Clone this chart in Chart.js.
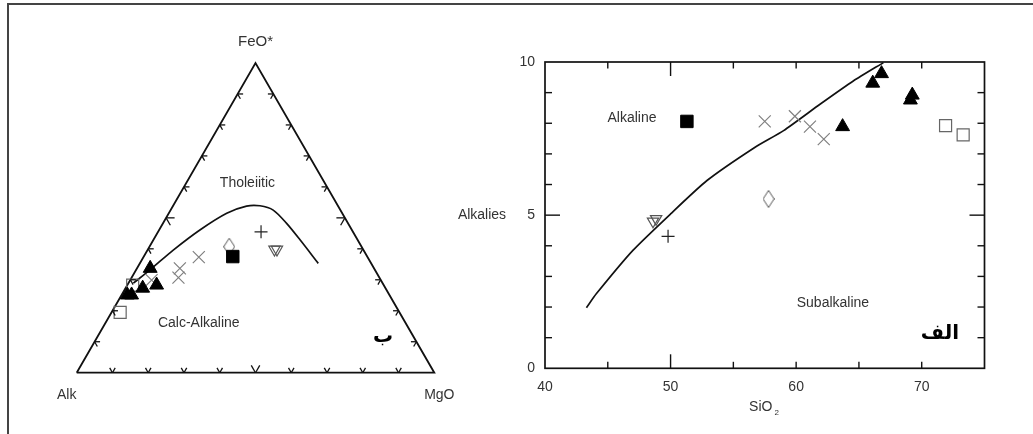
<!DOCTYPE html>
<html>
<head>
<meta charset="utf-8">
<script src="https://cdn.jsdelivr.net/npm/chart.js@4.4.0/dist/chart.umd.min.js"></script>
<style>
  body { margin: 0; background: #fff; }
  #frame { position: absolute; left: 7px; top: 3px; width: 1040px; height: 440px; border-top: 2px solid #444; border-left: 2px solid #444; }
  #afm { position: absolute; left: 0; top: 0; }
  #tas { position: absolute; left: 440px; top: 0; }
</style>
</head>
<body>
<div id="frame"></div>
<canvas id="afm" width="500" height="434" style="width:500px;height:434px"></canvas>
<canvas id="tas" width="593" height="434" style="width:593px;height:434px"></canvas>
<script>
// TAS diagram: SiO2 vs alkalies, per sample group
const sio2Square = [51.3];
const alkSquare = [8.06];
const sio2Cross = [57.5, 59.9, 61.1, 62.2];
const alkCross = [8.06, 8.23, 7.89, 7.48];
const sio2Tri = [63.7, 66.1, 66.8, 69.25, 69.1];
const alkTri = [7.89, 9.31, 9.62, 8.92, 8.76];
const sio2OpenSq = [71.9, 73.3];
const alkOpenSq = [7.92, 7.62];
const sio2Diamond = [57.8];
const alkDiamond = [5.53];
const sio2DownTri = [48.6, 48.85];
const alkDownTri = [4.80, 4.88];
const sio2Plus = [49.8];
const alkPlus = [4.31];
// alkaline / subalkaline divide
const sio2Divide = [43.3, 44.1, 47.0, 50.0, 52.9, 56.7, 59.0, 61.9, 64.55, 66.95];
const alkDivide = [1.98, 2.44, 3.85, 5.04, 6.13, 7.21, 7.76, 8.62, 9.38, 9.98];
const sio2Ticks = [40, 50, 60, 70];
const alkTicks = [0, 5, 10];

// AFM triangle, each point is [A, F, M] in %
const afmSquare = [[37.6, 37.5, 24.9]];
const afmCross = [[47.2, 37.3, 15.5], [54.3, 33.7, 12.0], [56.2, 30.7, 13.1], [64.1, 29.9, 6.0]];
const afmTri = [[62.6, 33.7, 3.7], [63.5, 28.3, 8.2], [67.9, 27.3, 4.8], [72.1, 25.1, 2.8], [73.3, 25.1, 1.6]];
const afmOpenSq = [[78.1, 19.5, 2.4], [70.2, 28.3, 1.5]];
const afmDiamond = [[37.0, 40.7, 22.3]];
const afmDownTri = [[24.8, 39.8, 35.4], [24.1, 39.8, 36.1]];
const afmPlus = [[25.7, 45.5, 28.8]];
// tholeiitic / calc-alkaline divide
const afmDivide = [[69.7, 28.9, 1.4], [62.9, 33.2, 3.9], [53.2, 39.6, 7.2], [42.5, 46.1, 11.4], [32.3, 51.5, 16.2],
  [25.6, 53.8, 20.6], [21.8, 53.9, 24.3], [18.8, 52.5, 28.7], [17.2, 48.2, 34.6], [16.1, 42.9, 41.0], [14.8, 35.3, 49.9]];
const afmCorners = [[100, 0, 0], [0, 0, 100], [0, 100, 0], [100, 0, 0]];

const FONT = '"Liberation Sans", Arial, sans-serif';
const H = Math.sqrt(3) / 2;

function pts(xs, ys) {
    return xs.map((v, i) => ({x: v, y: ys[i]}));
}

function ternXY(c) {
    const s = c[0] + c[1] + c[2];
    const f = c[1] / s, m = c[2] / s;
    return {x: m + f / 2, y: f * H};
}

// tall open diamond marker
const diamondImg = document.createElement('canvas');
diamondImg.width = 12;
diamondImg.height = 18;
(() => {
    const g = diamondImg.getContext('2d');
    g.strokeStyle = '#555';
    g.lineWidth = 1;
    g.beginPath();
    g.moveTo(6, 0.5); g.lineTo(11.5, 9); g.lineTo(6, 17.5); g.lineTo(0.5, 9); g.closePath();
    g.stroke();
})();

const styles = {
    square: {pointStyle: 'rect', pointRadius: 8.8, pointBackgroundColor: '#000', pointBorderColor: '#000', pointBorderWidth: 1},
    tri: {pointStyle: 'triangle', pointRadius: 8, pointBackgroundColor: '#000', pointBorderColor: '#000', pointBorderWidth: 1},
    openSq: {pointStyle: 'rect', pointRadius: 8.5, pointBackgroundColor: 'rgba(0,0,0,0)', pointBorderColor: '#666', pointBorderWidth: 1.2},
    cross: {pointStyle: 'crossRot', pointRadius: 8.5, pointBorderColor: '#808080', pointBorderWidth: 1.2},
    diamond: {pointStyle: diamondImg, pointRadius: 9},
    downTri: {pointStyle: 'triangle', pointRotation: 180, pointRadius: 6.5, pointBackgroundColor: 'rgba(0,0,0,0)', pointBorderColor: '#555', pointBorderWidth: 1.2},
    plus: {pointStyle: 'cross', pointRadius: 6.5, pointBorderColor: '#222', pointBorderWidth: 1.2}
};

function markerSet(data, style) {
    return Object.assign({data: data, showLine: false, clip: false}, styles[style]);
}

function lineSet(data, tension) {
    return {data: data, showLine: true, pointRadius: 0, borderColor: '#111', borderWidth: 1.7, tension: tension, clip: false};
}

function label(ctx, text, px, py, font) {
    ctx.font = font;
    ctx.fillStyle = '#333';
    ctx.textAlign = 'center';
    ctx.textBaseline = 'middle';
    ctx.fillText(text, px, py);
}

// ---- AFM ternary ----
const afmDecor = {
    id: 'afmDecor',
    afterDatasetsDraw(chart) {
        const {ctx, scales: {x, y}} = chart;
        const P = c => { const p = ternXY(c); return [x.getPixelForValue(p.x), y.getPixelForValue(p.y)]; };
        const vA = P([100, 0, 0]), vF = P([0, 100, 0]), vM = P([0, 0, 100]);
        ctx.save();
        ctx.strokeStyle = '#111';
        ctx.lineWidth = 1.3;
        [[vA, vM, vF], [vA, vF, vM], [vM, vF, vA]].forEach(([p1, p2, o]) => {
            for (let i = 1; i < 10; i++) {
                const t = i / 10, len = i === 5 ? 8.5 : 5.5;
                const px = p1[0] + (p2[0] - p1[0]) * t, py = p1[1] + (p2[1] - p1[1]) * t;
                [p1, p2].forEach(v => {
                    const dx = o[0] - v[0], dy = o[1] - v[1], d = Math.hypot(dx, dy);
                    ctx.beginPath();
                    ctx.moveTo(px, py);
                    ctx.lineTo(px + dx / d * len, py + dy / d * len);
                    ctx.stroke();
                });
            }
        });
        const f14 = '14px ' + FONT;
        label(ctx, 'FeO*', vF[0], vF[1] - 21, '15px ' + FONT);
        label(ctx, 'Alk', vA[0] - 10, vA[1] + 22, f14);
        label(ctx, 'MgO', vM[0] + 5, vM[1] + 22, f14);
        label(ctx, 'Tholeiitic', x.getPixelForValue(0.4776), y.getPixelForValue(0.5297), f14);
        label(ctx, 'Calc-Alkaline', x.getPixelForValue(0.3414), y.getPixelForValue(0.1381), f14);
        ctx.fillStyle = '#000';
        ctx.font = 'bold 20px "DejaVu Sans", sans-serif';
        ctx.textAlign = 'center';
        ctx.textBaseline = 'middle';
        ctx.fillText('ب', x.getPixelForValue(0.8565), y.getPixelForValue(0.0998));
        ctx.restore();
    }
};

new Chart(document.getElementById('afm'), {
    type: 'scatter',
    data: {
        datasets: [
            markerSet(afmSquare.map(ternXY), 'square'),
            markerSet(afmTri.map(ternXY), 'tri'),
            markerSet(afmOpenSq.map(ternXY), 'openSq'),
            markerSet(afmCross.map(ternXY), 'cross'),
            markerSet(afmDiamond.map(ternXY), 'diamond'),
            markerSet(afmDownTri.map(ternXY), 'downTri'),
            markerSet(afmPlus.map(ternXY), 'plus'),
            lineSet(afmDivide.map(ternXY), 0.3),
            Object.assign(lineSet(afmCorners.map(ternXY), 0), {borderWidth: 1.8})
        ]
    },
    options: {
        responsive: false,
        animation: false,
        events: [],
        layout: {padding: {left: 76.7, right: 65.7, top: 63, bottom: 61.3}, autoPadding: false},
        plugins: {legend: {display: false}, tooltip: {enabled: false}},
        scales: {
            x: {type: 'linear', min: 0, max: 1, display: false},
            y: {type: 'linear', min: 0, max: H, display: false}
        }
    },
    plugins: [afmDecor]
});

// ---- TAS ----
const tasDecor = {
    id: 'tasDecor',
    beforeDatasetsDraw(chart) {
        const {ctx, chartArea: a, scales: {x, y}} = chart;
        const line = (x1, y1, x2, y2) => { ctx.beginPath(); ctx.moveTo(x1, y1); ctx.lineTo(x2, y2); ctx.stroke(); };
        ctx.save();
        ctx.strokeStyle = '#111';
        ctx.lineWidth = 1.7;
        ctx.strokeRect(a.left, a.top, a.right - a.left, a.bottom - a.top);
        ctx.lineWidth = 1.4;
        for (let v = 45; v <= 70; v += 5) {
            const px = x.getPixelForValue(v), len = v === 50 ? 14 : 6.5;
            line(px, a.bottom, px, a.bottom - len);
            line(px, a.top, px, a.top + len);
        }
        for (let v = 1; v < 10; v++) {
            const py = y.getPixelForValue(v), len = v === 5 ? 15 : 7;
            line(a.left, py, a.left + len, py);
            line(a.right, py, a.right - len, py);
        }
        ctx.restore();
    },
    afterDatasetsDraw(chart) {
        const {ctx, chartArea: a, scales: {x, y}} = chart;
        ctx.save();
        const f14 = '14px ' + FONT;
        label(ctx, 'Alkaline', x.getPixelForValue(46.93), y.getPixelForValue(8.17), f14);
        label(ctx, 'Subalkaline', x.getPixelForValue(62.93), y.getPixelForValue(2.12), f14);
        label(ctx, 'Alkalies', a.left - 63, y.getPixelForValue(5), f14);
        // x title with subscript
        const cx = (a.left + a.right) / 2 - 4, ty = a.bottom + 39;
        ctx.font = f14;
        ctx.fillStyle = '#333';
        ctx.textAlign = 'center';
        ctx.textBaseline = 'middle';
        ctx.fillText('SiO', cx, ty);
        ctx.font = '8px ' + FONT;
        ctx.fillText('2', cx + 16, ty + 5);
        ctx.fillStyle = '#000';
        ctx.font = 'bold 20px "DejaVu Sans", sans-serif';
        ctx.fillText('الف', x.getPixelForValue(71.45), y.getPixelForValue(1.14));
        ctx.restore();
    }
};

new Chart(document.getElementById('tas'), {
    type: 'scatter',
    data: {
        datasets: [
            markerSet(pts(sio2Square, alkSquare), 'square'),
            markerSet(pts(sio2Tri, alkTri), 'tri'),
            markerSet(pts(sio2OpenSq, alkOpenSq), 'openSq'),
            markerSet(pts(sio2Cross, alkCross), 'cross'),
            markerSet(pts(sio2Diamond, alkDiamond), 'diamond'),
            markerSet(pts(sio2DownTri, alkDownTri), 'downTri'),
            markerSet(pts(sio2Plus, alkPlus), 'plus'),
            lineSet(pts(sio2Divide, alkDivide), 0.2)
        ]
    },
    options: {
        responsive: false,
        animation: false,
        events: [],
        layout: {padding: {left: 0, right: 48.5, top: 62, bottom: 0}, autoPadding: false},
        plugins: {legend: {display: false}, tooltip: {enabled: false}},
        scales: {
            x: {
                type: 'linear', min: 40, max: 75,
                grid: {display: false, drawTicks: false},
                border: {display: false},
                ticks: {padding: 10, color: '#333', font: {family: FONT, size: 14}, maxRotation: 0},
                afterBuildTicks: s => { s.ticks = sio2Ticks.map(v => ({value: v})); },
                afterFit: s => { s.height = 65.7; }
            },
            y: {
                type: 'linear', min: 0, max: 10,
                grid: {display: false, drawTicks: false},
                border: {display: false},
                ticks: {padding: 10, color: '#333', font: {family: FONT, size: 14}},
                afterBuildTicks: s => { s.ticks = alkTicks.map(v => ({value: v})); },
                afterFit: s => { s.width = 105; }
            }
        }
    },
    plugins: [tasDecor]
});
</script>
</body>
</html>
